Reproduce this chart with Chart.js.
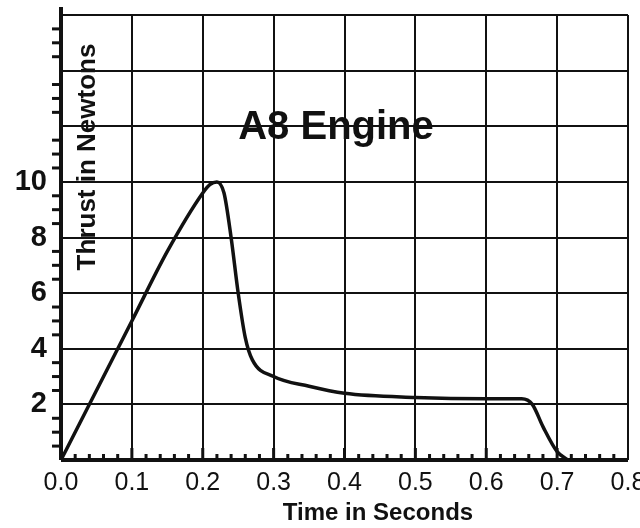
<!DOCTYPE html>
<html>
<head>
<meta charset="utf-8">
<style>body{margin:0;background:#fff}canvas{display:block}</style>
<script src="https://cdn.jsdelivr.net/npm/chart.js"></script>
</head>
<body>
<canvas id="chart" width="640" height="528"></canvas>
<script>
const timeS = [0, 0.05, 0.1, 0.15, 0.2, 0.21, 0.22, 0.23, 0.24, 0.25, 0.26, 0.27, 0.3, 0.35, 0.4, 0.5, 0.6, 0.65, 0.665, 0.68, 0.7, 0.715];
const thrustN = [0, 2.5, 5.0, 7.5, 9.6, 9.9, 10.0, 9.6, 8.0, 6.0, 4.4, 3.6, 3.0, 2.65, 2.4, 2.25, 2.2, 2.2, 2.0, 1.2, 0.3, 0];
const xTicks = [0, 0.1, 0.2, 0.3, 0.4, 0.5, 0.6, 0.7, 0.8];
const yLabels = [2, 4, 6, 8, 10];
const ink = '#111';
const fam = '"Liberation Sans Narrow", "Liberation Sans", Arial, sans-serif';

const extras = {
  id: 'extras',
  afterDraw(c) {
    const g = c.ctx, x = c.scales.x, y = c.scales.y, a = c.chartArea;
    g.save();
    g.strokeStyle = ink; g.fillStyle = ink;
    g.lineWidth = 4;
    g.beginPath(); g.moveTo(a.left, a.bottom); g.lineTo(a.right, a.bottom); g.stroke();
    g.beginPath(); g.moveTo(a.left, a.bottom); g.lineTo(a.left, a.top - 8); g.stroke();
    g.lineWidth = 3;
    for (let v = 0.5; v <= 16.01; v += 0.5) {
      const p = y.getPixelForValue(v);
      const len = (Math.abs(v % 2) < 0.01) ? 0 : 9;
      g.beginPath(); g.moveTo(a.left - len, p); g.lineTo(a.left, p); g.stroke();
    }
    for (let i = 1; i < 40; i++) {
      const p = x.getPixelForValue(i * 0.02);
      const len = i % 5 === 0 ? 12 : 6;
      g.beginPath(); g.moveTo(p, a.bottom); g.lineTo(p, a.bottom - len); g.stroke();
    }
    g.textAlign = 'center'; g.textBaseline = 'middle';
    g.font = 'bold 40px ' + fam;
    g.fillText('A8 Engine', 336, 128);
    g.font = 'bold 24px ' + fam;
    g.fillText('Time in Seconds', 378, 513);
    g.save();
    g.translate(88, 157); g.rotate(-Math.PI / 2);
    g.font = 'bold 26px ' + fam;
    g.fillText('Thrust in Newtons', 0, 0);
    g.restore();
    g.restore();
  }
};

new Chart(document.getElementById('chart'), {
  type: 'line',
  data: {
    datasets: [{
      data: timeS.map((t, i) => ({ x: t, y: thrustN[i] })),
      borderColor: ink, borderWidth: 3.5, pointRadius: 0,
      cubicInterpolationMode: 'monotone', fill: false
    }]
  },
  options: {
    responsive: false, animation: false,
    layout: { padding: 0 },
    plugins: { legend: { display: false }, tooltip: { enabled: false } },
    scales: {
      x: {
        type: 'linear', min: 0, max: 0.8,
        afterBuildTicks: s => { s.ticks = xTicks.map(v => ({ value: v })); },
        afterFit: s => { s.height = 68; s.paddingRight = 12; s.paddingLeft = 0; },
        grid: { color: ink, lineWidth: 2, drawTicks: false },
        border: { display: false },
        ticks: {
          padding: 8, color: ink, maxRotation: 0,
          font: { size: 25, family: fam },
          callback: v => v.toFixed(1)
        }
      },
      y: {
        min: 0, max: 16,
        afterBuildTicks: s => { s.ticks = [0, 2, 4, 6, 8, 10, 12, 14, 16].map(v => ({ value: v })); },
        afterFit: s => { s.width = 61; s.paddingTop = 15; s.paddingBottom = 0; },
        grid: { color: ink, lineWidth: 2, drawTicks: false },
        border: { display: false },
        ticks: {
          padding: 14, color: ink,
          font: { size: 29, weight: 'bold', family: fam },
          callback: v => yLabels.includes(v) ? String(v) : ''
        }
      }
    }
  },
  plugins: [extras]
});
</script>
</body>
</html>
